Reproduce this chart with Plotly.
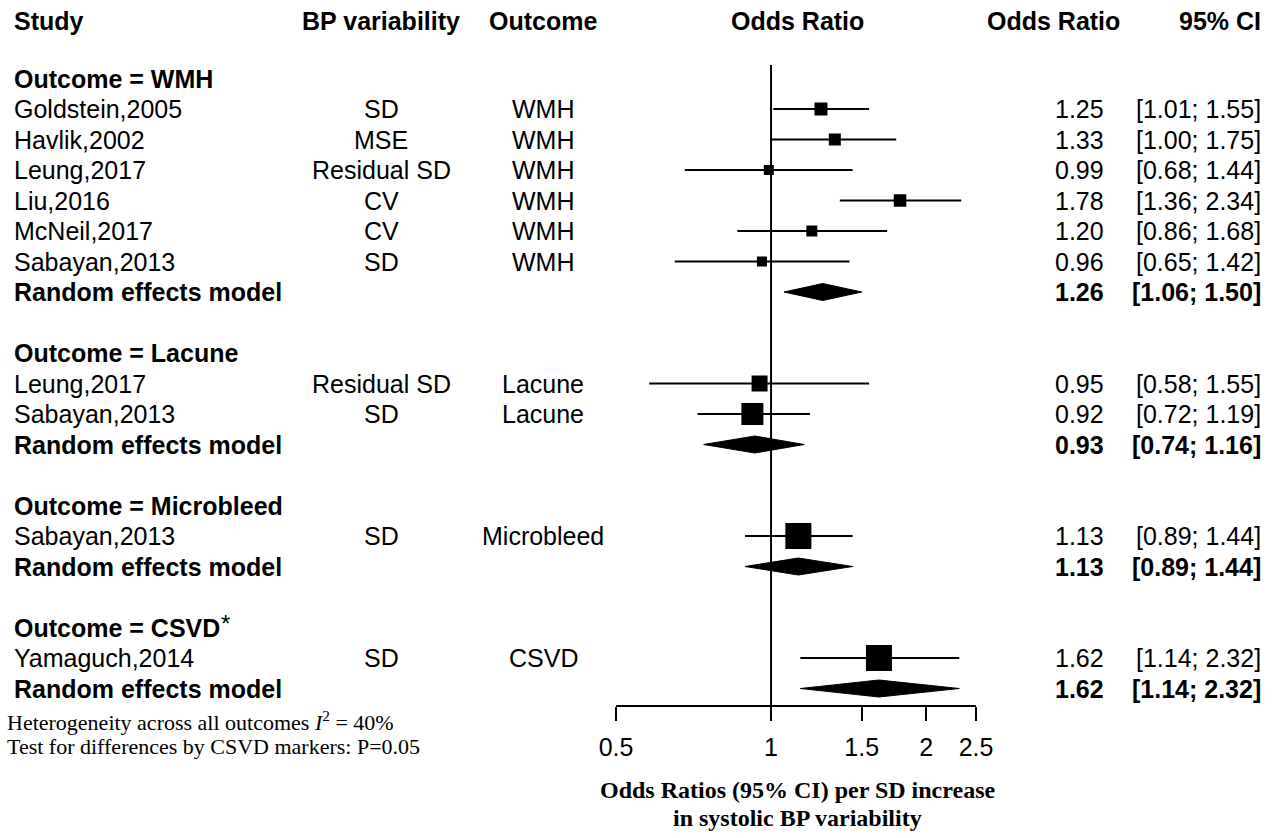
import plotly.graph_objects as go
import math

# ---------------- data ----------------
studies = ["Goldstein,2005", "Havlik,2002", "Leung,2017", "Liu,2016", "McNeil,2017",
           "Sabayan,2013", "Leung,2017", "Sabayan,2013", "Sabayan,2013", "Yamaguch,2014"]
bp_var = ["SD", "MSE", "Residual SD", "CV", "CV", "SD", "Residual SD", "SD", "SD", "SD"]
outcomes = ["WMH", "WMH", "WMH", "WMH", "WMH", "WMH", "Lacune", "Lacune", "Microbleed", "CSVD"]
or_est = [1.25, 1.33, 0.99, 1.78, 1.20, 0.96, 0.95, 0.92, 1.13, 1.62]
ci_lo = [1.01, 1.00, 0.68, 1.36, 0.86, 0.65, 0.58, 0.72, 0.89, 1.14]
ci_hi = [1.55, 1.75, 1.44, 2.34, 1.68, 1.42, 1.55, 1.19, 1.44, 2.32]
study_rows = [3, 4, 5, 6, 7, 8, 12, 13, 17, 21]
square_sizes = [13, 12, 10, 12.5, 11, 10, 16, 22, 26, 26]

groups = ["WMH", "Lacune", "Microbleed", "CSVD"]
grp_header_labels = ["Outcome = WMH", "Outcome = Lacune", "Outcome = Microbleed",
                     "Outcome = CSVD"]
grp_est = [1.26, 0.93, 1.13, 1.62]
grp_lo = [1.06, 0.74, 0.89, 1.14]
grp_hi = [1.50, 1.16, 1.44, 2.32]
grp_header_rows = [2, 11, 16, 20]
grp_summary_rows = [9, 14, 18, 22]

tick_vals = [0.5, 1, 1.5, 2, 2.5]
tick_text = ["0.5", "1", "1.5", "2", "2.5"]

# ---------------- layout constants ----------------
W, H = 1285, 838
SANS = "Liberation Sans, Arial, sans-serif"
SERIF = "Liberation Serif, Times New Roman, serif"
FS = 25
ROW_PX = 30.5
ROW3_PX = 109
AXIS_PX = 705
TOP_ROW = 3 - ROW3_PX / ROW_PX
BOT_ROW = 3 + (AXIS_PX - ROW3_PX) / ROW_PX
DIAM_H = 8.5 / ROW_PX
HEADER_ROW = 0.1


def px(x):
    return x / W


def py(y):
    return 1 - y / H


fig = go.Figure()

# CI lines
for lo, hi, r in zip(ci_lo, ci_hi, study_rows):
    fig.add_trace(go.Scatter(x=[lo, hi], y=[r, r], mode="lines",
                             line=dict(color="black", width=2), hoverinfo="skip",
                             showlegend=False))

# squares
fig.add_trace(go.Scatter(x=or_est, y=study_rows, mode="markers", opacity=1,
                         marker=dict(symbol="square", size=square_sizes, color="black",
                                     opacity=1, line=dict(width=0)),
                         showlegend=False))

# diamonds
for est, lo, hi, r in zip(grp_est, grp_lo, grp_hi, grp_summary_rows):
    fig.add_trace(go.Scatter(x=[lo, est, hi, est, lo],
                             y=[r, r - DIAM_H, r, r + DIAM_H, r],
                             mode="lines", fill="toself", fillcolor="black",
                             line=dict(color="black", width=1), hoverinfo="skip",
                             showlegend=False))

# reference line at OR = 1
fig.add_shape(type="line", xref="x", yref="y", x0=1, x1=1,
              y0=TOP_ROW + (65 / ROW_PX), y1=BOT_ROW,
              line=dict(color="black", width=2))

ann = []


def add_text(text, x, y, anchor="left", bold=False, size=FS, font=SANS, yref="y"):
    t = f"<b>{text}</b>" if bold else text
    ann.append(dict(text=t, x=px(x), xref="paper", y=y, yref=yref,
                    xanchor=anchor, yanchor="middle", showarrow=False,
                    font=dict(family=font, size=size, color="black")))


# column headers
add_text("Study", 12, HEADER_ROW, "left", True)
add_text("BP variability", 381, HEADER_ROW, "center", True)
add_text("Outcome", 543, HEADER_ROW, "center", True)
add_text("Odds Ratio", 797, HEADER_ROW, "center", True)
add_text("Odds Ratio", 1122, HEADER_ROW, "right", True)
add_text("95% CI", 1263, HEADER_ROW, "right", True)

# study rows
for s, b, o, e, lo, hi, r in zip(studies, bp_var, outcomes, or_est, ci_lo, ci_hi, study_rows):
    add_text(s, 12, r, "left")
    add_text(b, 381, r, "center")
    add_text(o, 543, r, "center")
    add_text(f"{e:.2f}", 1106, r, "right")
    add_text(f"[{lo:.2f}; {hi:.2f}]", 1263, r, "right")

# group headers and summaries
for lab, hr, sr, e, lo, hi in zip(grp_header_labels, grp_header_rows, grp_summary_rows,
                                  grp_est, grp_lo, grp_hi):
    add_text(lab, 12, hr, "left", True)
    add_text("Random effects model", 12, sr, "left", True)
    add_text(f"{e:.2f}", 1106, sr, "right", True)
    add_text(f"[{lo:.2f}; {hi:.2f}]", 1263, sr, "right", True)

# superscript asterisk after "Outcome = CSVD"
add_text("*", 219, grp_header_rows[3] - 0.12, "left", False, 24)

# footnotes
add_text("Heterogeneity across all outcomes <i>I</i><sup>2</sup> = 40%", 5, py(721),
         "left", False, 22, SERIF, "paper")
add_text("Test for differences by CSVD markers: P=0.05", 5, py(746),
         "left", False, 22, SERIF, "paper")

# axis title
add_text("Odds Ratios (95% CI) per SD increase", 797, py(790), "center", True, 24, SERIF, "paper")
add_text("in systolic BP variability", 797, py(818), "center", True, 24, SERIF, "paper")

fig.update_layout(
    template="none",
    width=W, height=H,
    autosize=False,
    margin=dict(l=0, r=0, t=0, b=0, pad=0, autoexpand=False),
    paper_bgcolor="white", plot_bgcolor="white",
    annotations=ann,
    xaxis=dict(type="log", domain=[616 / W, 976 / W],
               range=[math.log10(0.5), math.log10(2.5)],
               tickvals=tick_vals, ticktext=tick_text,
               ticks="outside", ticklen=14, tickwidth=2, tickcolor="black",
               showline=True, linewidth=2, linecolor="black",
               showgrid=False, zeroline=False, automargin=False,
               tickfont=dict(family=SANS, size=FS, color="black"),
               ticklabelstandoff=5),
    yaxis=dict(domain=[(H - AXIS_PX) / H, 1], range=[BOT_ROW, TOP_ROW],
               visible=False, showgrid=False, zeroline=False, automargin=False),
    showlegend=False,
)

fig.write_html("out.html", config={"responsive": False, "displayModeBar": False},
               post_script="document.body.style.margin='0';document.body.style.overflow='hidden';")
